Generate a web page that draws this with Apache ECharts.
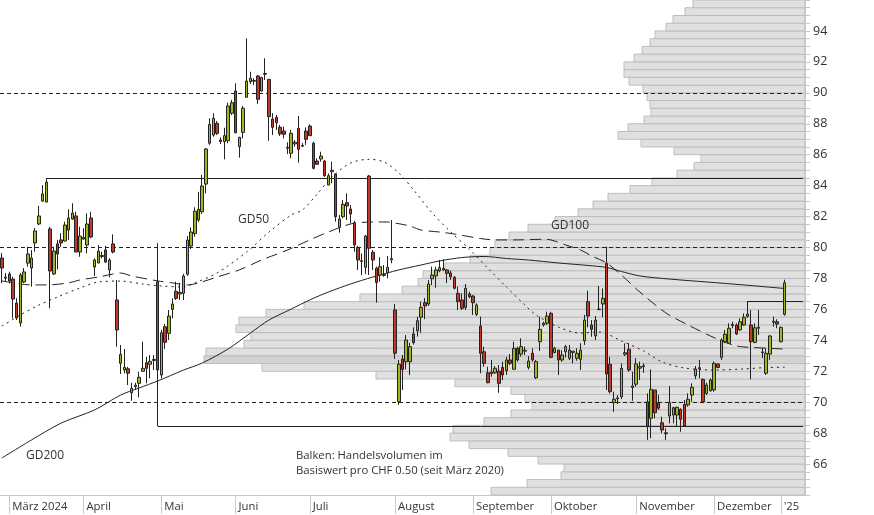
<!DOCTYPE html>
<html><head><meta charset="utf-8">
<script src="https://cdn.jsdelivr.net/npm/echarts@6/dist/echarts.min.js"></script>
<style>html,body{margin:0;padding:0;background:#fff}#c{width:874px;height:515px}</style>
</head><body><div id="c"></div>
<script>
// ---- data ----
const openP  = [79.32,78.08,78.29,77.96,76.41,75.12,77.77,78.99,78.67,80.29,81.52,83.00,82.94,81.20,78.29,80.23,80.49,80.42,81.13,81.84,82.04,79.71,80.55,80.16,81.91,78.74,79.00,79.42,79.84,78.55,80.23,76.61,72.51,72.08,72.16,70.61,71.00,71.22,72.00,72.55,72.45,72.70,77.79,71.76,74.88,74.45,76.00,77.17,77.00,77.04,78.27,80.10,80.90,81.78,82.31,84.10,86.74,87.27,88.03,86.95,86.84,86.90,88.68,90.12,86.52,87.44,89.71,90.72,90.75,91.09,90.12,91.20,90.87,88.31,88.42,87.77,87.53,86.48,86.09,86.70,87.70,86.55,87.53,87.85,86.74,85.59,85.72,85.59,84.04,84.90,84.75,81.30,81.99,82.90,82.49,81.60,80.01,79.10,78.72,84.62,79.69,78.66,78.22,78.20,78.37,79.20,75.96,70.03,72.79,72.62,72.62,74.41,74.62,75.49,76.43,76.35,77.98,78.16,78.50,78.65,78.55,78.35,78.07,77.04,76.61,76.13,76.99,76.86,75.68,74.92,73.26,71.90,71.85,71.90,72.01,72.25,72.04,72.73,72.13,73.48,73.11,73.30,72.25,73.16,71.58,73.91,75.00,75.10,75.74,73.20,73.37,72.73,73.26,72.84,73.22,72.84,72.77,73.97,76.50,74.99,74.28,75.98,76.35,78.98,72.45,69.97,70.22,70.35,73.10,73.42,70.95,71.16,72.20,72.30,70.03,68.96,70.79,69.97,68.67,68.02,69.11,69.17,69.17,69.54,69.86,69.82,70.46,71.71,72.15,71.48,70.57,70.74,70.79,72.47,72.90,73.91,73.81,74.95,74.99,74.67,74.99,75.55,74.99,73.87,74.78,73.20,71.87,73.11,75.17,75.20,73.91,75.68];
const highP  = [79.64,78.35,78.44,78.11,76.73,78.35,78.67,80.05,79.84,81.26,82.68,84.04,84.47,81.34,80.05,80.49,80.92,81.67,82.47,82.86,82.31,81.34,81.24,82.21,82.31,79.30,80.16,79.73,80.10,79.30,80.85,77.90,73.70,73.44,72.29,71.26,71.26,71.97,73.91,72.94,73.05,73.05,80.28,74.67,75.05,75.96,76.71,77.79,77.72,78.29,80.74,81.30,82.60,83.60,84.69,86.43,88.35,88.68,88.18,87.12,87.74,89.36,89.54,90.61,87.16,89.15,93.52,91.36,90.94,91.15,91.04,92.23,90.87,88.68,88.57,87.92,87.81,86.80,87.60,86.95,88.50,86.75,87.77,87.96,86.84,85.77,86.19,85.65,84.79,85.55,84.79,82.10,83.07,83.50,82.75,81.73,80.10,79.62,80.81,84.69,79.84,78.76,79.37,78.87,79.45,81.78,76.35,72.73,73.05,74.34,73.84,74.84,75.52,76.50,76.73,77.90,78.76,78.76,79.20,79.24,78.60,78.50,78.16,77.47,77.04,77.64,77.14,76.93,76.39,75.53,73.59,72.29,72.73,72.34,72.40,72.62,72.94,73.11,73.91,73.59,74.13,73.59,72.98,73.48,72.73,75.53,75.20,75.85,75.85,73.59,73.37,73.37,73.70,73.70,73.30,73.48,73.81,75.64,77.21,75.31,75.57,77.51,77.36,80.05,72.94,70.68,70.46,72.51,73.80,73.81,71.97,72.84,72.62,72.51,70.57,72.12,70.79,70.47,69.06,68.31,71.04,69.71,69.70,69.60,70.14,70.57,71.22,72.34,72.73,71.54,71.26,71.54,72.62,72.51,74.13,74.67,75.10,75.20,75.10,75.42,75.74,76.54,75.96,75.10,75.96,73.50,73.48,74.34,75.53,75.36,74.88,77.92];
const lowP   = [77.70,77.79,77.68,75.42,75.31,74.88,77.70,78.76,77.47,79.73,81.45,82.96,82.92,76.07,78.22,78.59,80.05,80.40,80.49,81.78,79.70,79.40,80.49,79.62,80.59,78.16,78.98,79.30,79.00,78.07,79.62,73.59,71.82,71.87,71.11,70.09,70.80,70.31,71.97,71.22,71.54,72.08,68.46,71.54,73.44,74.02,75.42,76.61,76.61,76.61,78.16,79.90,80.70,81.65,82.17,83.50,86.63,87.16,87.27,86.69,85.70,86.74,88.57,87.38,85.81,87.05,89.71,90.57,90.50,89.28,90.07,90.83,86.90,87.27,87.60,87.21,87.06,86.04,85.77,86.52,85.48,86.50,86.63,87.21,85.05,85.33,85.55,84.57,84.03,84.15,81.67,80.96,81.89,81.78,81.56,79.73,78.55,78.22,78.29,78.22,78.55,76.43,77.79,78.11,78.01,78.98,72.79,69.82,70.79,72.12,71.75,73.72,74.24,74.49,75.37,76.22,77.57,77.40,78.40,78.50,77.70,77.90,77.30,75.96,75.96,75.96,76.71,75.64,75.57,71.87,72.29,71.22,71.65,71.82,70.61,71.43,71.76,72.40,72.08,72.62,72.94,73.05,72.12,72.62,71.50,73.31,74.88,74.99,72.84,73.16,71.76,72.62,72.90,72.73,72.51,72.68,72.08,73.70,74.84,74.23,74.02,75.96,75.50,70.79,70.57,69.38,69.88,70.20,72.98,71.97,70.09,71.00,71.43,71.90,67.56,67.67,68.96,69.50,67.99,67.56,68.63,68.63,68.41,68.09,68.41,69.71,70.03,71.50,71.54,69.93,70.46,70.68,70.68,72.19,72.73,73.81,73.76,74.78,74.34,74.62,74.94,75.45,71.48,73.81,74.34,72.85,71.76,72.73,74.88,74.78,73.87,75.59];
const closeP = [78.67,78.02,77.83,76.67,75.44,78.22,78.42,79.58,79.32,81.07,82.04,83.46,84.23,78.48,79.77,79.58,80.29,81.45,81.91,82.23,79.71,80.74,80.65,81.52,80.68,79.19,79.77,79.48,79.06,79.19,79.71,74.67,73.09,72.25,71.87,70.90,71.10,71.61,72.19,72.19,72.64,72.76,72.08,74.49,73.87,75.57,76.35,76.71,77.10,78.16,80.48,81.00,82.35,82.47,83.98,86.37,87.96,88.35,87.38,86.85,87.23,89.15,89.36,87.42,87.12,89.00,90.76,90.94,90.80,89.58,90.98,91.25,88.46,87.77,88.07,87.34,87.32,86.42,87.38,86.80,86.35,86.60,86.99,87.23,85.12,85.38,85.91,84.64,84.64,85.00,81.99,81.84,82.79,82.68,82.17,80.16,79.19,79.15,80.74,79.95,79.19,77.73,78.76,78.25,78.72,79.28,73.16,72.45,72.12,74.02,73.59,73.85,75.27,76.13,76.22,77.64,78.22,78.55,78.70,78.55,78.33,78.10,77.36,76.50,76.07,77.36,76.82,76.43,76.28,73.16,72.51,71.26,71.95,72.19,71.22,71.76,72.73,72.51,73.48,72.73,73.59,73.36,72.66,72.73,72.62,74.71,75.10,75.57,72.90,73.48,72.73,73.05,73.59,73.37,73.30,73.16,73.37,75.31,75.57,74.71,75.31,76.02,76.71,71.82,70.68,70.19,70.28,72.19,73.20,72.08,71.05,72.47,72.30,72.36,68.46,70.83,69.32,69.61,68.20,67.96,69.97,69.64,69.67,68.89,68.46,70.19,70.96,72.14,72.23,70.03,71.11,71.43,72.51,72.25,74.02,74.39,74.78,75.03,74.41,75.20,75.49,75.70,73.91,74.81,74.84,73.25,73.16,74.28,75.23,75.05,74.84,77.72];

// month labels at the first trading day of each month (index into the day list)
const monthStartIdx = [2, 22, 43, 63, 83, 106, 127, 148, 171, 192, 210];
const monthNames    = ['März 2024','April','Mai','Juni','Juli','August','September','Oktober','November','Dezember',"'25"];
const totalSlots = 217;

// moving averages (sampled: day index, value)
const gd50Idx  = [0,5,10,15,21,26,32,38,43,49,52,58,66,72,78,81,85,89,94,99,103,107,111,116,121,126,131,136,141,144,150,156,161,167,173,178,184,192,200,206,211];
const gd50Val  = [74.92,75.64,76.28,76.80,77.38,77.77,77.83,77.64,77.51,77.45,77.71,78.35,79.71,81.00,82.10,82.42,83.46,84.56,85.46,85.70,85.53,84.82,83.72,82.23,81.00,79.90,78.67,77.45,76.28,75.64,74.86,74.47,74.54,73.96,73.31,72.60,72.21,72.08,72.15,72.24,72.26];
const gd100Idx = [0,8,12,18,21,26,30,32,35,42,46,50,53,58,64,70,77,83,88,94,100,104,106,110,113,118,122,129,133,138,146,148,152,156,159,163,167,172,179,185,191,197,200,211];
const gd100Val = [77.84,77.58,77.58,77.71,77.90,78.09,78.29,78.35,78.16,77.84,77.71,77.58,77.71,78.09,78.55,79.19,79.84,80.49,81.00,81.52,81.65,81.65,81.58,81.39,81.13,81.00,80.87,80.58,80.49,80.49,80.53,80.49,80.16,79.84,79.45,79.00,78.22,77.12,75.77,74.99,74.28,73.70,73.57,73.44];
const gd200Idx = [0,8,16,25,32,37,42,49,54,61,67,72,78,83,88,94,100,107,113,118,124,130,136,142,150,158,163,167,172,180,190,200,211];
const gd200Val = [66.39,67.56,68.65,69.50,70.46,70.92,71.37,72.08,72.53,73.44,74.47,75.31,76.02,76.61,77.12,77.64,78.09,78.55,78.87,79.13,79.35,79.42,79.29,79.19,79.00,78.84,78.71,78.45,78.16,77.96,77.77,77.58,77.35];

// volume profile: volume per CHF 0.50 price bin, bins from 64.0 upward
const profileStart = 64, profileStep = 0.5;
const profileVol = [314,278,244,241,267,297,336,355,352,321,294,273,280,294,350,429,543,601,599,561,554,569,566,539,501,445,403,387,382,360,335,315,310,296,277,250,227,212,197,175,153,128,111,104,131,164,187,177,161,154,155,158,162,176,181,181,171,163,155,150,139,132,120,112];

// horizontal levels
const dottedLevels = [90, 80, 70];
const hiLevel = {from: 12, value: 84.47};
const loLevel = {from: 42, value: 68.46};
const recentLevel = {from: 201, value: 76.54};

// ---- build ----
const cats = Array.from({length: totalSlots}, (_, i) => String(i));
const candles = openP.map((o, i) => [o, closeP[i], lowP[i], highP[i]]);
const pair = (a, b) => a.map((x, i) => [x, b[i]]);
const maxVol = Math.max(...profileVol);
const profileData = profileVol.map((v, k) => [profileStart + k * profileStep, profileStart + (k + 1) * profileStep, v]);
const monthMap = {};
monthStartIdx.forEach((ix, k) => monthMap[ix] = monthNames[k]);
const FONT = 'Open Sans';
const ink = '#222';

const chart = echarts.init(document.getElementById('c'), null, {renderer: 'canvas'});
const lastIdx = totalSlots - 1;
chart.setOption({
  animation: false,
  backgroundColor: '#fff',
  textStyle: {fontFamily: FONT},
  grid: {left: 0, right: 69, top: 0, bottom: 20, containLabel: false},
  xAxis: [{
    type: 'category', data: cats, boundaryGap: true,
    axisLine: {show: true, lineStyle: {color: '#c8c8c8'}},
    axisTick: {show: true, alignWithLabel: true, length: 19, interval: (i) => monthMap[i] !== undefined, lineStyle: {color: '#c8c8c8'}},
    axisLabel: {show: true, interval: (i) => monthMap[i] !== undefined, formatter: (v, i) => monthMap[i] || '',
      align: 'left', padding: [0, 0, 0, 3], margin: 6, color: '#333', fontSize: 11.3, fontFamily: FONT},
    splitLine: {show: false}
  }, {
    type: 'value', gridIndex: 0, position: 'top', inverse: true, min: 0, max: 805, show: false
  }],
  yAxis: [{
    type: 'value', position: 'right', min: 64, max: 96, interval: 0.5, scale: true,
    axisLine: {show: true, lineStyle: {color: '#c8c8c8'}},
    axisTick: {show: true, length: 5, lineStyle: {color: '#c8c8c8'}},
    axisLabel: {show: true, margin: 8, color: '#333', fontSize: 12.5, fontFamily: FONT,
      formatter: (v) => (v > 64 && v < 96 && Math.abs(v % 2) < 1e-9) ? String(v) : ''},
    splitLine: {show: false}
  }],
  series: [
    {
      type: 'custom', name: 'Volumen', xAxisIndex: 1, yAxisIndex: 0, z: 1, silent: true,
      data: profileData,
      encode: {x: 2, y: [0, 1]},
      renderItem: (params, api) => {
        const lo = api.value(0), hi = api.value(1), vol = api.value(2);
        const pTop = api.coord([vol, hi]);
        const pBot = api.coord([0, lo]);
        return {type: 'rect', shape: {x: pTop[0], y: pTop[1], width: pBot[0] - pTop[0], height: pBot[1] - pTop[1]},
          style: {fill: vol === maxVol ? '#d3d3d3' : '#e0e0e0', stroke: '#bdbdbd', lineWidth: 1}};
      }
    },
    {type: 'line', name: 'GD200', data: pair(gd200Idx, gd200Val), showSymbol: false, smooth: 0.3, z: 3, silent: true,
      lineStyle: {color: ink, width: 1}},
    {type: 'line', name: 'GD100', data: pair(gd100Idx, gd100Val), showSymbol: false, smooth: 0.3, z: 3, silent: true,
      lineStyle: {color: ink, width: 1, type: [11, 6]}},
    {type: 'line', name: 'GD50', data: pair(gd50Idx, gd50Val), showSymbol: false, smooth: 0.3, z: 3, silent: true,
      lineStyle: {color: ink, width: 1, type: [2, 4]}},
    {
      type: 'candlestick', name: 'Kurs', data: candles, barWidth: 3, z: 5, silent: true,
      itemStyle: {color: '#a3b61f', color0: '#c0392b', borderColor: ink, borderColor0: ink, borderWidth: 1},
      markLine: {
        silent: true, symbol: ['none', 'none'], label: {show: false}, z: 2,
        data: [
          ...dottedLevels.map(v => ({yAxis: v, lineStyle: {type: [4, 3], color: ink, width: 1}})),
          [{coord: [hiLevel.from, hiLevel.value], lineStyle: {type: 'solid', color: ink, width: 1}}, {coord: [lastIdx, hiLevel.value]}],
          [{coord: [loLevel.from, loLevel.value], lineStyle: {type: 'solid', color: ink, width: 1}}, {coord: [lastIdx, loLevel.value]}],
          [{coord: [recentLevel.from, recentLevel.value], lineStyle: {type: 'solid', color: ink, width: 1}}, {coord: [lastIdx, recentLevel.value]}]
        ]
      }
    }
  ],
  graphic: [
    {type: 'text', left: 238, top: 214, z: 10, style: {text: 'GD50', fill: '#333', font: '12px "Open Sans"'}},
    {type: 'text', left: 551, top: 220, z: 10, style: {text: 'GD100', fill: '#333', font: '12px "Open Sans"'}},
    {type: 'text', left: 26, top: 450, z: 10, style: {text: 'GD200', fill: '#333', font: '12px "Open Sans"'}},
    {type: 'text', left: 296, top: 448, z: 10, style: {text: 'Balken: Handelsvolumen im\nBasiswert pro CHF 0.50 (seit März 2020)', fill: '#333', font: '11.3px "Open Sans"', lineHeight: 15}}
  ]
});
</script></body></html>
